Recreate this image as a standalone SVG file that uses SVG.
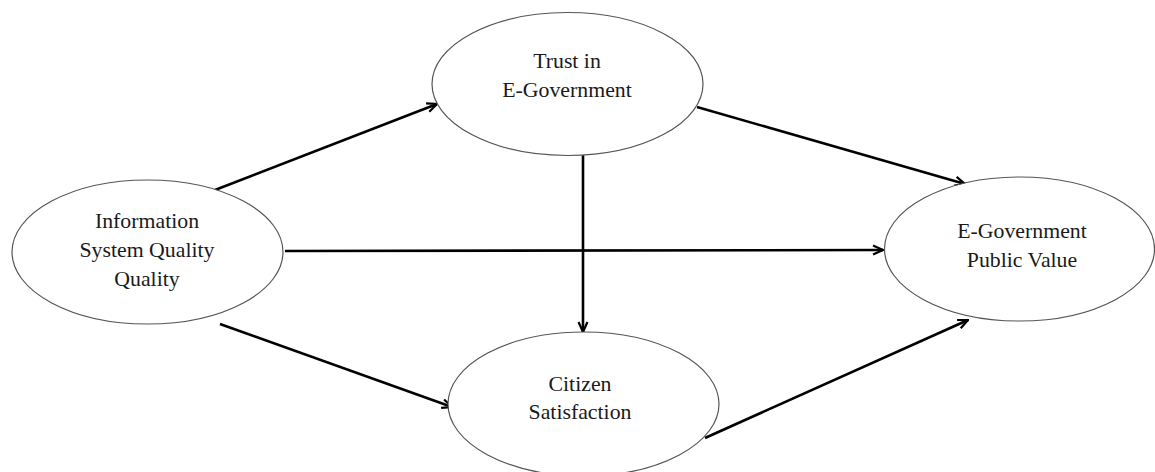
<svg xmlns="http://www.w3.org/2000/svg" width="1155" height="472" viewBox="0 0 1155 472">
  <style>
    .node ellipse { fill: #ffffff; stroke: #555555; stroke-width: 1.2; }
    .node text { font-family: "Liberation Serif", "Times New Roman", serif; font-size: 21.8px; fill: #1a1a1a; text-anchor: middle; }
    .edge { stroke: #000000; stroke-width: 2.6; fill: none; marker-end: url(#arrow); }
  </style>
  <defs>
    <marker id="arrow" viewBox="0 0 12 12" refX="11" refY="6" markerWidth="4.6" markerHeight="4.6" orient="auto" markerUnits="strokeWidth">
      <path d="M1,1.5 L11,6 L1,10.5" fill="none" stroke="#000000" stroke-width="2.2" stroke-linejoin="miter"/>
    </marker>
  </defs>
  <rect width="1155" height="472" fill="#ffffff"/>

  <!-- connectors -->
  <g id="connectors">
    <line class="edge" x1="215" y1="190" x2="437" y2="104"/>
    <line class="edge" x1="697" y1="107" x2="965" y2="184"/>
    <line class="edge" x1="285" y1="251" x2="883" y2="250"/>
    <line class="edge" x1="583" y1="155" x2="583" y2="332"/>
    <line class="edge" x1="220" y1="324" x2="452" y2="407"/>
    <line class="edge" x1="705" y1="438" x2="968" y2="320"/>
  </g>

  <g id="trust" class="node">
    <ellipse cx="567.5" cy="84" rx="135.5" ry="71.5"/>
    <text x="567" y="68">Trust in</text>
    <text x="567" y="97">E-Government</text>
  </g>

  <g id="info-quality" class="node">
    <ellipse cx="147.5" cy="252" rx="135.5" ry="72"/>
    <text x="147" y="228">Information</text>
    <text x="147" y="257">System Quality</text>
    <text x="147" y="286">Quality</text>
  </g>

  <g id="public-value" class="node">
    <ellipse cx="1019.5" cy="249" rx="135" ry="72"/>
    <text x="1022" y="238">E-Government</text>
    <text x="1022" y="267">Public Value</text>
  </g>

  <g id="satisfaction" class="node">
    <ellipse cx="583.5" cy="404" rx="135.5" ry="72"/>
    <text x="580" y="391">Citizen</text>
    <text x="580" y="419">Satisfaction</text>
  </g>
</svg>
